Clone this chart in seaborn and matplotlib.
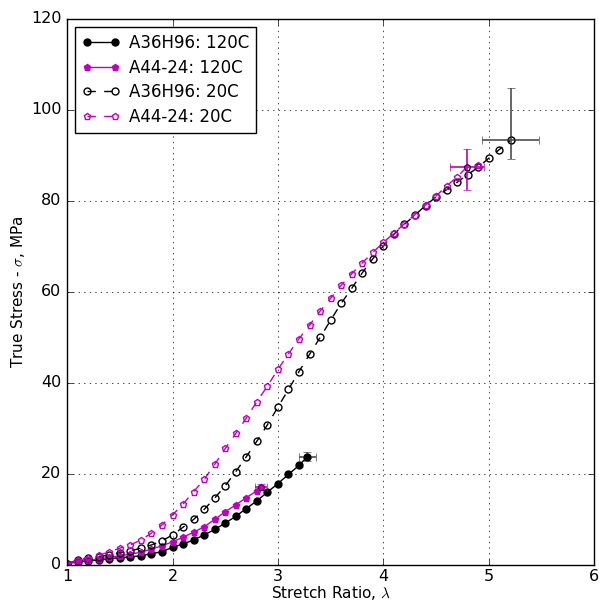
import numpy as np
import pandas as pd
import matplotlib
matplotlib.use("Agg")
import matplotlib.pyplot as plt
import seaborn as sns

plt.style.use("classic")

# stretch ratio / true stress
lam_a36_120 = [1.0, 1.1, 1.2, 1.3, 1.4, 1.5, 1.6, 1.7, 1.8, 1.9, 2.0, 2.1, 2.2, 2.3, 2.4, 2.5,
               2.6, 2.7, 2.8, 2.9, 3.0, 3.1, 3.2, 3.28]
sig_a36_120 = [0.3, 0.7, 0.9, 1.1, 1.4, 1.6, 1.8, 2.0, 2.5, 2.9, 3.9, 4.6, 5.5, 6.6, 7.8, 9.2,
               10.7, 12.4, 14.1, 16.0, 17.9, 19.9, 21.9, 23.8]

lam_a44_120 = [1.0, 1.1, 1.2, 1.3, 1.4, 1.5, 1.6, 1.7, 1.8, 1.9, 2.0, 2.1, 2.2, 2.3, 2.4, 2.5,
               2.6, 2.7, 2.8, 2.84]
sig_a44_120 = [0.3, 0.7, 1.1, 1.3, 1.7, 2.0, 2.4, 2.8, 3.5, 4.2, 5.1, 6.1, 7.2, 8.4, 10.0, 11.7,
               13.2, 14.8, 16.3, 17.2]

lam_a36_20 = [1.0, 1.1, 1.2, 1.3, 1.4, 1.5, 1.6, 1.7, 1.8, 1.9, 2.0, 2.1, 2.2, 2.3, 2.4, 2.5,
              2.6, 2.7, 2.8, 2.9, 3.0, 3.1, 3.2, 3.3, 3.4, 3.5, 3.6, 3.7, 3.8, 3.9, 4.0, 4.1,
              4.2, 4.3, 4.4, 4.5, 4.6, 4.7, 4.8, 4.9, 5.0, 5.1, 5.21]
sig_a36_20 = [0.3, 1.1, 1.5, 1.8, 2.2, 2.7, 3.1, 3.7, 4.4, 5.3, 6.6, 8.3, 10.0, 12.2, 14.7, 17.4,
              20.5, 23.8, 27.2, 30.8, 34.7, 38.6, 42.5, 46.3, 50.0, 53.8, 57.5, 60.8, 64.2, 67.3, 70.1, 72.7,
              74.9, 76.9, 79.0, 80.9, 82.5, 84.1, 85.8, 87.4, 89.4, 91.3, 93.4]

lam_a44_20 = [1.0, 1.1, 1.2, 1.3, 1.4, 1.5, 1.6, 1.7, 1.8, 1.9, 2.0, 2.1, 2.2, 2.3, 2.4, 2.5,
              2.6, 2.7, 2.8, 2.9, 3.0, 3.1, 3.2, 3.3, 3.4, 3.5, 3.6, 3.7, 3.8, 3.9, 4.0, 4.1,
              4.2, 4.3, 4.4, 4.5, 4.6, 4.7, 4.79, 4.9]
sig_a44_20 = [0.3, 1.0, 1.6, 2.1, 2.9, 3.7, 4.4, 5.5, 7.0, 8.8, 11.0, 13.4, 16.1, 18.8, 22.1, 25.6,
              28.9, 32.3, 35.9, 39.3, 43.0, 46.4, 49.7, 52.7, 55.8, 58.6, 61.5, 64.0, 66.4, 68.7, 70.9, 72.9,
              75.0, 77.0, 79.1, 81.1, 83.3, 85.3, 87.4, 87.8]

# failure points: x, y, x-err, (y-err low, y-err high)
fail_a36_120 = (3.28, 23.8, 0.08, (1.0, 1.0))
fail_a44_120 = (2.84, 17.2, 0.06, (0.5, 0.5))
fail_a36_20 = (5.21, 93.4, 0.27, (4.2, 11.5))
fail_a44_20 = (4.79, 87.4, 0.16, (5.0, 4.1))

series = [
    ("A36H96: 120C", lam_a36_120, sig_a36_120, fail_a36_120, "k", "o", "-", True),
    ("A44-24: 120C", lam_a44_120, sig_a44_120, fail_a44_120, "m", "p", "-", True),
    ("A36H96: 20C", lam_a36_20, sig_a36_20, fail_a36_20, "k", "o", "--", False),
    ("A44-24: 20C", lam_a44_20, sig_a44_20, fail_a44_20, "m", "p", "--", False),
]

fig = plt.figure(figsize=(5.99, 6.04), dpi=100, facecolor="white")
ax = fig.add_axes([0.112, 0.0646, 0.880, 0.904])

for name, x, y, fail, col, mk, ls, filled in series:
    df = pd.DataFrame({"lam": x, "sig": y})
    sns.lineplot(data=df, x="lam", y="sig", ax=ax, color=col, marker=mk, linestyle=ls,
                 markersize=5, markerfacecolor=col if filled else "none",
                 markeredgecolor=col, markeredgewidth=1, linewidth=1, label=name)
    fx, fy, xe, ye = fail
    ax.errorbar([fx], [fy], xerr=[[xe], [xe]], yerr=[[ye[0]], [ye[1]]], fmt=mk,
                color=col, ecolor="0.3" if col == "k" else col,
                markerfacecolor=col if filled else "none", markersize=5,
                capsize=3, elinewidth=1.2)

ax.set_xlim(1, 6)
ax.set_ylim(0, 120)
ax.set_xticks([1, 2, 3, 4, 5, 6])
ax.set_yticks([0, 20, 40, 60, 80, 100, 120])
ax.tick_params(axis="both", labelsize=11.5)
ax.tick_params(axis="x", pad=3)
ax.grid(True, linestyle=":", color="k")
ax.set_xlabel(r"Stretch Ratio, $\lambda$", fontsize=11, labelpad=0)
ax.set_ylabel(r"True Stress - $\sigma$, MPa", fontsize=11, labelpad=3)
ax.legend(loc="upper left", numpoints=2, fontsize=12, handlelength=2.3,
          labelspacing=0.4, borderaxespad=0.5, handletextpad=0.5)

fig.savefig("out.png", dpi=100, facecolor="white")
